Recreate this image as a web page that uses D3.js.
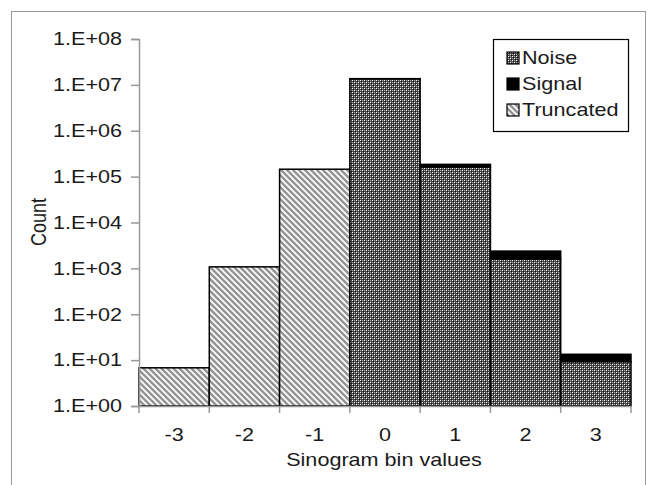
<!DOCTYPE html>
<html><head><meta charset="utf-8">
<script src="https://cdn.jsdelivr.net/npm/d3@7"></script>
<style>body{margin:0;background:#fff}svg{display:block;font-family:"Liberation Sans",Arial,sans-serif}</style>
</head><body><svg id="c" width="648" height="485"></svg>
<script>
const categories = ["-3","-2","-1","0","1","2","3"];
const noise     = [0, 0, 0, 13500000, 161000, 1590, 9.2];
const signal    = [0, 0, 0, 150000, 24000, 790, 4.2];
const truncated = [6.8, 1080, 145000, 0, 0, 0, 0];
const yTicks = [1,1e1,1e2,1e3,1e4,1e5,1e6,1e7,1e8];
const yTickLabels = ["1.E+00","1.E+01","1.E+02","1.E+03","1.E+04","1.E+05","1.E+06","1.E+07","1.E+08"];
const legendItems = ["Noise","Signal","Truncated"];

const SX = 1.2; // horizontal text stretch seen in the reference
const FS = 18;
const svg = d3.select("#c");
const defs = svg.append("defs");
// noise pattern: fine checker dots
const pn = defs.append("pattern").attr("id","pNoise").attr("patternUnits","userSpaceOnUse").attr("width",4).attr("height",4);
pn.append("rect").attr("width",4).attr("height",4).attr("fill","#4a4a4a");
[[0,0,"#fff"],[2,2,"#fff"],[2,0,"#a8a8a8"],[0,2,"#a8a8a8"],[1,1,"#111"],[3,3,"#111"]].forEach(p=>{
  pn.append("rect").attr("x",p[0]).attr("y",p[1]).attr("width",1).attr("height",1).attr("fill",p[2]);
});
// truncated pattern: diagonal stripes (\)
const pt = defs.append("pattern").attr("id","pTrunc").attr("patternUnits","userSpaceOnUse").attr("width",6).attr("height",6);
pt.append("rect").attr("width",6).attr("height",6).attr("fill","#959595");
pt.append("path").attr("d","M0,0 L6,6 M-3,3 L3,9 M3,-3 L9,3").attr("stroke","#fff").attr("stroke-width",1.7);

// outer frame
svg.append("rect").attr("x",11.5).attr("y",11.5).attr("width",634).attr("height",480).attr("fill","none").attr("stroke","#9a9a9a").attr("stroke-width",1);

const x = d3.scaleBand().domain(categories).range([139,631]).padding(0);
const y = d3.scaleLog().domain([1,1e8]).range([406,39]);

const g = svg.append("g");
categories.forEach((c,i)=>{
  if (truncated[i] > 0) {
    g.append("rect").attr("x",x(c)).attr("width",x.bandwidth())
      .attr("y",y(truncated[i])).attr("height",y(1)-y(truncated[i]))
      .attr("fill","url(#pTrunc)").attr("stroke","#000").attr("stroke-width",1.5);
  }
  if (noise[i] > 0) {
    const tot = noise[i] + signal[i];
    g.append("rect").attr("x",x(c)).attr("width",x.bandwidth())
      .attr("y",y(tot)).attr("height",y(noise[i])-y(tot))
      .attr("fill","#000").attr("stroke","#000").attr("stroke-width",1.5);
    g.append("rect").attr("x",x(c)).attr("width",x.bandwidth())
      .attr("y",y(noise[i])).attr("height",y(1)-y(noise[i]))
      .attr("fill","url(#pNoise)").attr("stroke","#000").attr("stroke-width",1.5);
  }
});

// y axis
const yAxis = svg.append("g").attr("transform","translate(139,0)")
  .call(d3.axisLeft(y).tickValues(yTicks).tickFormat((d,i)=>yTickLabels[i]).tickSize(8).tickPadding(9));
yAxis.select(".domain").attr("stroke","#999").attr("stroke-width",1.5);
yAxis.selectAll(".tick line").attr("stroke","#999").attr("stroke-width",1.5);
yAxis.selectAll("text").attr("font-size",FS).attr("fill","#1a1a1a").attr("font-family","Liberation Sans, Arial, sans-serif")
  .attr("x",-17/SX).attr("transform",`scale(${SX},1)`);

// x axis
const xAxis = svg.append("g").attr("transform","translate(0,406)")
  .call(d3.axisBottom(x).tickSize(0).tickPadding(22));
xAxis.select(".domain").attr("stroke","#999").attr("stroke-width",1.5);
xAxis.selectAll("text").attr("font-size",FS).attr("fill","#1a1a1a").attr("font-family","Liberation Sans, Arial, sans-serif")
  .attr("transform",`scale(${SX},1)`);
// boundary ticks
const bounds = categories.map(c=>x(c)).concat([x(categories[categories.length-1])+x.bandwidth()]);
svg.append("g").selectAll("line").data(bounds).join("line")
  .attr("x1",d=>d).attr("x2",d=>d).attr("y1",406).attr("y2",413)
  .attr("stroke","#999").attr("stroke-width",1.5);

// axis titles
svg.append("text").attr("transform",`translate(384,466) scale(${SX},1)`).attr("text-anchor","middle")
  .attr("font-size",FS).attr("fill","#1a1a1a").text("Sinogram bin values");
svg.append("text").attr("transform","translate(46,222) scale(1.2,1) rotate(-90)").attr("text-anchor","middle")
  .attr("font-size",FS).attr("fill","#1a1a1a").text("Count");

// legend
const lg = svg.append("g");
lg.append("rect").attr("x",493.5).attr("y",39.5).attr("width",135).attr("height",92).attr("fill","#fff").attr("stroke","#000").attr("stroke-width",1.2);
const fills = ["url(#pNoise)","#000","url(#pTrunc)"];
legendItems.forEach((t,i)=>{
  const cy = 58 + i*26;
  lg.append("rect").attr("x",507).attr("y",cy-6).attr("width",12).attr("height",12)
    .attr("fill",fills[i]).attr("stroke","#000").attr("stroke-width",1.2);
  lg.append("text").attr("transform",`translate(522,${cy}) scale(${SX},1)`).attr("dy","0.35em")
    .attr("font-size",FS).attr("fill","#1a1a1a").text(t);
});
</script></body></html>
